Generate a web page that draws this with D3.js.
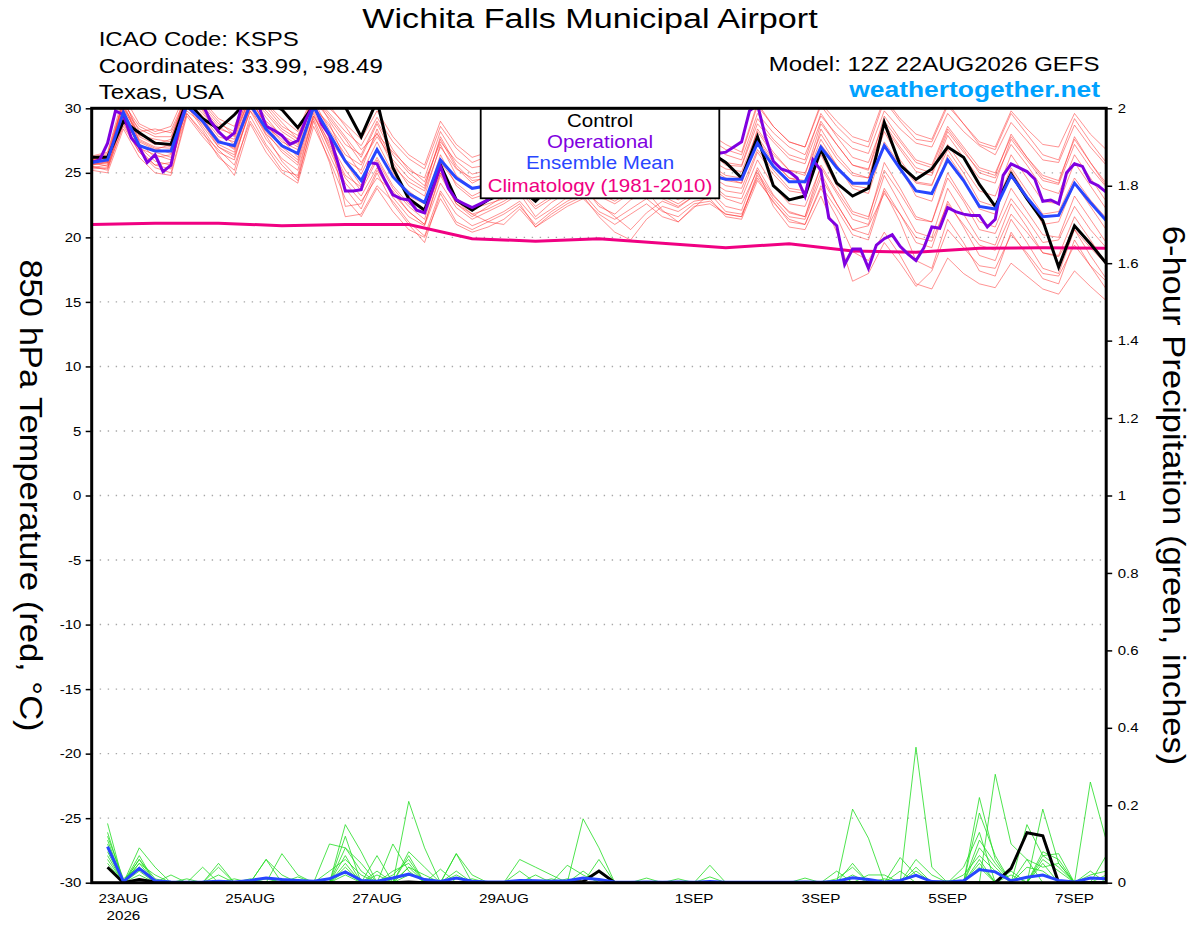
<!DOCTYPE html>
<html>
<head>
<meta charset="utf-8">
<script src="https://cdnjs.cloudflare.com/ajax/libs/d3/7.8.5/d3.min.js"></script>
<style>
  body { margin: 0; background: #fff; }
  svg { display: block; }
  text { font-family: "Liberation Sans", Arial, Helvetica, sans-serif; }
</style>
</head>
<body>
<svg></svg>
<script>
// 850 hPa temperature, 6-hourly from 12Z 22AUG2026 (65 steps)
var control = [26.2,26.2,29.0,28.1,27.3,27.2,30.6,29.2,28.4,29.5,
  30.8,30.6,29.9,28.5,30.2,30.4,30.1,27.8,30.6,25.4,
  23.0,22.1,25.6,22.9,22.1,22.9,23.4,23.8,22.8,24.0,
  24.8,25.5,25.0,24.5,25.2,25.8,26.0,25.4,26.0,26.6,
  25.8,24.6,27.8,24.0,22.9,23.2,26.8,24.2,23.2,23.8,
  28.9,25.6,24.5,25.3,27.0,26.2,24.1,22.4,24.9,23.0,
  21.3,17.7,20.9,19.5,18.0];
var ensMean = [25.8,26.0,29.7,27.1,26.7,26.7,30.2,29.0,27.4,27.1,
  30.3,28.4,27.1,26.5,30.1,28.0,25.9,24.4,26.8,24.7,
  23.4,22.7,26.0,24.6,23.8,24.0,24.3,24.5,24.0,24.6,
  24.8,25.2,24.9,24.6,25.0,25.3,25.0,24.8,25.2,24.8,
  24.5,24.5,27.3,25.5,24.3,24.3,27.0,25.4,24.2,24.2,
  27.1,25.3,23.6,23.4,26.0,24.4,22.4,22.2,24.8,23.1,
  21.6,21.7,24.2,22.7,21.3];
// operational run, 3-hourly (129 steps)
var operational = [25.8,26.0,27.3,29.8,29.5,27.7,27.0,25.8,26.4,25.1,
  25.6,28.5,30.4,30.3,30.3,29.0,28.2,27.6,28.1,30.3,
  30.5,30.3,28.6,28.3,27.9,27.2,27.5,29.1,30.3,28.8,
  27.9,25.9,23.6,23.6,23.7,25.8,25.7,24.4,23.3,23.0,
  22.9,22.1,21.9,23.7,25.5,23.8,22.9,22.6,22.3,22.6,
  22.9,23.6,24.4,24.9,24.6,24.2,24.8,25.3,24.9,24.4,
  24.7,25.2,25.6,25.1,24.8,25.3,25.8,25.4,25.0,25.5,
  26.0,25.7,25.3,25.6,26.1,25.9,25.6,25.9,26.3,26.5,
  26.6,27.0,27.4,29.8,30.3,27.8,25.9,25.3,25.1,24.6,
  23.2,26.0,25.2,21.5,20.9,17.9,19.1,19.1,17.6,19.4,
  19.9,20.2,19.3,18.7,18.2,19.2,20.8,20.7,22.3,22.0,
  21.8,21.7,21.7,20.8,21.4,24.8,25.7,25.4,25.1,24.5,
  22.8,22.9,22.6,25.0,25.7,25.5,24.3,24.0,23.5];
// climatology, daily at 12Z
var climatology = [21.0,21.1,21.1,20.9,21.0,21.0,19.9,19.7,19.9,19.55,19.2,19.5,18.95,18.85,19.15,19.2,19.15];

// ensemble members, temperature
var m01 = [26.1,26.4,30.4,28.6,28.0,28.3, 31.0,30.2,28.8,28.2,31.2,30.1,28.6,27.9,31.0,29.6, 28.2,27.1,29.3,27.4,26.1,25.3,28.6,26.9,25.8,26.3, 26.6,27.2,25.9,26.4,27.0,27.5,26.2,26.0,26.8,27.3,26.1,25.8,26.6, 27.2,26.4,26.0,29.6,28.1,27.0,26.4,29.4,28.0,26.9,26.5,29.8,28.4,27.3,27.0,29.6,28.2,27.1,26.4,28.9,27.5,26.0,25.8,28.7,27.0,25.6];
var m02 = [25.4,25.6,28.9,26.8,25.6,25.3, 30.4,28.6,27.0,26.2,29.8,27.6,26.1,25.2,29.4,27.0, 24.6,23.2,25.4,23.1,21.6,20.9,24.2,22.3,21.4,22.0, 22.6,23.4,21.6,22.7,23.5,24.0,22.4,21.8,22.9,23.6,22.1,21.2,22.3, 23.4,22.0,21.8,24.6,22.7,21.4,21.0,23.8,21.6,18.9,18.2,20.4,18.6,16.4,16.0,18.4,17.2,16.4,16.1,18.0,17.0,16.0,15.6,17.4,16.2,15.1];
var m03 = [25.9,25.8,30.8,27.8,27.2,27.6, 31.4,29.8,28.0,27.6,30.9,29.3,27.8,27.0,30.6,28.3, 26.4,25.6,28.1,25.5,24.3,23.6,27.0,25.3,24.6,24.9, 25.3,25.8,24.6,25.4,26.0,26.2,25.0,24.7,25.6,26.1,25.2,24.9,25.8, 26.0,25.3,25.1,28.2,26.4,25.2,25.0,28.0,26.1,24.8,24.6,28.2,26.0,24.3,24.1,26.8,25.0,22.8,22.4,25.4,23.6,21.8,22.0,24.6,22.9,21.5];
var m04 = [25.5,25.3,29.4,27.0,25.9,25.6, 30.2,28.4,26.6,26.0,30.1,27.9,25.9,24.6,29.0,25.8, 21.6,21.8,24.0,22.8,21.2,20.1,23.6,21.8,20.9,21.4, 22.0,22.8,21.4,22.2,23.1,23.8,22.6,21.6,20.6,21.9,22.8,22.3,23.2, 23.6,22.4,22.1,25.4,23.3,21.9,21.6,25.0,22.6,20.6,20.9,23.4,21.8,20.0,19.7,22.6,21.0,19.4,19.0,21.8,20.4,18.8,18.5,20.6,19.2,17.9];
var m05 = [26.2,26.5,30.6,28.2,28.4,28.1, 30.8,30.4,29.0,27.9,31.4,30.3,28.9,27.6,30.8,30.2, 28.6,26.8,28.0,26.6,25.4,24.3,27.4,25.9,24.9,25.2, 25.8,26.5,25.2,25.9,26.4,27.0,25.6,25.3,26.2,26.9,25.8,25.4,26.3, 26.6,25.6,25.5,28.8,27.4,26.1,25.7,29.0,27.2,25.6,25.3,28.6,26.8,25.1,24.8,27.9,26.2,24.6,24.2,27.6,26.0,24.4,24.1,27.2,25.4,23.9];
var m06 = [25.6,25.9,29.0,27.3,26.2,26.4, 29.8,28.8,27.2,26.6,30.2,28.4,27.2,26.4,30.4,27.6, 25.8,24.0,26.8,24.6,23.6,22.6,25.8,24.2,23.2,23.8, 24.2,24.9,23.6,24.4,25.0,25.5,24.2,23.8,24.6,25.2,24.4,24.0,24.9, 24.4,23.6,23.4,26.6,24.9,23.6,23.4,26.4,24.0,22.0,21.6,25.2,23.4,21.4,21.2,24.6,22.8,20.6,20.3,23.0,21.4,19.6,19.8,22.4,20.6,19.2];
var m07 = [25.9,26.2,30.1,27.6,27.0,26.9, 30.6,29.4,27.8,27.4,30.6,28.8,27.4,26.8,30.2,28.6, 26.8,24.9,27.4,25.0,23.2,22.6,26.4,24.0,23.0,23.4, 23.9,24.6,23.2,24.0,24.8,25.2,24.0,23.4,24.2,24.8,23.6,22.9,23.8, 24.0,23.0,22.6,25.2,22.4,20.8,20.6,23.2,20.4,16.6,17.2,19.6,18.0,16.2,17.4,20.6,19.2,17.8,17.6,20.2,18.8,17.2,17.0,19.4,17.8,16.6];
var m08 = [25.7,25.7,29.6,26.9,26.4,26.0, 30.0,29.0,27.6,26.8,30.4,28.0,26.8,25.8,29.8,27.2, 24.8,23.9,26.2,24.0,22.6,21.8,25.0,23.0,22.2,22.6, 23.0,23.8,22.4,23.2,24.0,24.6,23.4,22.8,23.6,24.4,23.2,22.6,23.4, 24.8,24.0,23.8,26.8,25.2,23.8,23.6,27.2,25.6,23.8,23.4,27.2,25.4,23.2,22.8,26.4,24.6,22.2,21.8,25.2,23.2,21.0,21.2,24.2,22.4,20.6];
var m09 = [26.0,26.3,30.2,27.9,27.6,27.4, 31.2,29.9,28.4,28.0,30.8,29.6,28.2,27.4,31.2,29.0, 27.2,26.4,29.0,26.8,25.2,24.6,28.2,26.2,25.4,25.6, 26.2,26.8,25.6,26.1,26.8,27.2,26.0,25.6,26.4,27.0,26.6,26.0,27.0, 28.0,27.2,26.6,30.4,28.6,27.4,27.0,30.2,28.6,27.4,27.0,30.6,29.0,27.6,27.4,30.2,28.8,27.4,27.0,29.8,28.4,27.2,27.0,29.6,28.0,26.8];
var m10 = [25.3,25.4,28.6,26.6,25.4,25.0, 29.6,28.2,26.2,25.2,29.4,27.2,25.6,24.4,29.2,26.4, 23.8,22.2,25.0,22.6,21.0,19.6,23.4,21.2,20.6,21.2, 21.8,22.6,20.8,21.8,22.6,23.2,21.6,20.4,19.8,21.4,22.4,22.0,22.8, 23.0,21.6,21.4,24.4,22.8,21.2,21.0,24.0,22.2,20.2,19.8,23.6,21.2,18.2,17.6,21.4,19.6,17.4,17.0,20.4,18.6,16.8,16.4,19.8,17.8,16.0];
var m11 = [26.0,26.0,29.9,28.0,27.4,27.0, 30.9,29.6,28.2,27.2,30.0,29.0,27.9,27.2,30.6,29.2, 27.6,25.8,27.8,26.0,24.6,23.8,27.8,25.6,24.4,24.6, 25.0,25.6,24.2,24.9,25.6,26.0,24.8,24.4,25.2,25.8,25.0,24.6,25.4, 25.6,24.8,24.6,27.8,26.0,24.6,24.4,27.6,25.6,24.0,23.8,27.4,25.6,24.2,24.0,27.2,25.4,23.6,23.2,26.4,24.6,22.8,22.6,25.8,24.0,22.2];
var m12 = [25.5,25.2,28.8,26.6,25.6,25.8, 29.6,28.0,26.8,25.6,29.0,27.0,25.2,24.8,29.6,26.8, 24.2,22.8,24.6,23.6,22.0,21.0,24.8,22.6,21.6,22.4, 23.2,24.0,22.8,23.6,24.4,24.8,23.6,23.0,23.8,24.6,23.6,23.2,24.0, 24.2,23.2,23.0,26.0,24.0,22.6,22.4,25.4,23.4,21.4,21.0,24.8,22.6,20.4,20.0,23.8,21.8,19.8,19.4,22.6,20.8,18.8,18.6,21.6,19.8,18.0];
var m13 = [26.1,26.1,30.5,27.4,26.8,27.2, 30.4,29.2,27.4,27.0,30.8,28.6,27.6,26.2,30.0,28.8, 26.0,25.2,28.4,25.8,24.0,23.2,27.2,24.8,23.8,24.2, 24.6,25.2,24.0,24.6,25.4,25.8,24.6,24.2,25.0,25.6,24.8,24.2,25.0, 25.2,24.4,24.2,27.6,25.8,24.6,24.2,28.4,26.4,25.0,24.6,28.8,27.0,25.4,25.0,28.2,26.6,25.2,24.8,28.0,26.2,24.6,24.2,27.8,25.8,24.0];
var m14 = [25.8,25.5,29.2,27.2,26.6,26.2, 30.2,28.9,27.0,26.4,29.8,28.2,26.6,25.6,29.4,27.4, 25.2,23.6,26.0,23.8,22.4,21.4,25.4,22.8,21.8,21.2, 21.0,22.2,20.8,21.6,22.4,23.0,21.8,21.0,21.8,22.6,21.6,21.2,22.4, 22.6,21.8,21.6,25.0,23.2,22.0,21.6,25.6,23.6,21.8,21.4,25.8,23.8,21.6,21.2,25.0,23.0,21.2,20.8,23.8,22.0,20.2,20.0,23.2,21.4,19.6];
var m15 = [25.6,25.8,29.8,27.5,26.9,26.5, 30.5,29.3,27.5,26.9,30.6,28.9,27.0,26.0,30.1,27.9, 22.4,22.6,25.2,23.4,22.0,21.0,25.0,22.6,21.8,22.2, 22.8,23.6,22.2,23.0,23.8,24.4,23.2,22.6,23.4,24.2,23.0,22.4,23.2, 25.4,24.6,24.2,28.4,26.6,25.2,24.8,28.8,27.2,25.6,25.2,29.4,27.6,26.0,25.6,28.6,27.0,25.4,25.0,27.8,26.2,24.8,24.4,27.6,25.8,24.2];
var m16 = [26.0,25.9,30.0,28.4,27.8,27.8, 30.7,30.0,28.6,27.8,31.0,29.8,28.4,27.6,30.9,29.4, 27.8,26.2,28.8,26.4,25.0,24.0,27.6,25.4,24.2,24.8, 25.4,26.0,24.8,25.6,26.2,26.6,25.4,25.0,25.8,26.4,25.4,25.0,25.6, 26.8,25.8,25.6,29.2,27.6,26.4,26.0,29.6,27.8,26.2,25.8,29.0,27.4,25.8,25.4,28.4,26.8,25.0,24.6,27.2,25.6,23.8,23.4,26.4,24.6,22.8];
var m17 = [25.2,25.0,28.4,26.2,25.0,24.8, 29.4,27.8,26.4,24.8,28.8,26.6,25.0,24.2,28.6,26.0, 23.0,21.6,23.8,22.0,20.6,20.0,23.0,21.0,20.4,20.8, 21.4,22.4,21.0,22.0,22.8,23.4,22.0,21.4,22.2,23.0,22.0,21.6,22.6, 22.8,21.8,21.6,24.8,23.0,21.6,21.4,24.6,22.6,20.6,20.2,23.8,21.8,19.6,19.2,22.8,20.8,18.6,18.2,21.4,19.6,17.6,17.2,20.6,18.6,16.8];
var m18 = [26.3,26.6,31.0,28.8,28.2,28.6, 31.4,30.6,29.2,28.6,31.6,30.4,29.2,28.2,31.2,30.0, 28.8,27.6,29.8,27.8,26.4,25.6,29.0,27.2,26.2,26.6, 26.8,27.4,26.2,26.8,27.4,27.8,26.6,26.2,27.0,27.6,26.6,26.2,27.0, 27.6,26.8,26.4,30.2,28.6,27.4,27.0,30.4,29.0,27.8,27.4,30.8,29.2,28.0,27.6,30.4,28.8,27.2,26.8,29.6,28.0,26.4,26.0,29.2,27.4,25.8];

// 6-hour precipitation (inches), steps 1..64
var ctlPrecip = [0.04,0,0.008,0.002,0,0,0,0, 0,0,0,0,0,0,0,0, 0,0,0,0.002,0,0,0,0, 0,0,0,0,0,0.002,0.003,0.03,
  0,0,0,0,0,0,0,0, 0,0,0,0,0,0,0,0, 0,0,0,0,0,0,0,0, 0,0.037,0.129,0.121,0,0,0,0];
var meanPrecip = [0.093,0.003,0.037,0.005,0.002,0.001,0.002,0.004, 0.002,0.006,0.012,0.008,0.006,0.004,0.01,0.028,
  0.006,0.004,0.012,0.022,0.008,0.003,0.012,0.004, 0.002,0.002,0.006,0.005,0.004,0.005,0.012,0.008,
  0.002,0.001,0.002,0.001,0.002,0.001,0.003,0.001, 0.001,0.001,0.001,0.001,0.002,0.001,0.004,0.013,
  0.008,0.002,0.006,0.019,0.003,0.002,0.005,0.034, 0.028,0.005,0.014,0.02,0.006,0.002,0.012,0.01];
var p01 = [0.153,0,0.05,0,0,0,0,0.05, 0,0,0,0,0,0,0,0.15, 0.08,0,0,0.21,0.09,0,0,0, 0,0,0,0,0,0,0.165,0.09, 0,0,0,0,0,0,0,0, 0,0,0,0,0,0,0,0.19, 0.115,0,0,0,0,0,0,0.04, 0,0,0,0,0,0,0.26,0.11];
var p02 = [0.13,0,0.09,0.04,0,0,0,0, 0,0,0.06,0.02,0,0,0,0.12, 0,0,0.1,0.03,0,0,0.075,0.02, 0,0,0,0,0,0,0,0, 0,0,0,0,0,0,0,0, 0,0,0,0,0,0,0,0, 0,0,0,0.35,0.04,0,0,0.22, 0.06,0,0,0.19,0.05,0,0,0];
var p03 = [0.11,0,0.07,0,0.02,0,0.04,0, 0,0,0,0.075,0.02,0,0.1,0.09, 0.05,0,0,0,0,0,0,0, 0,0,0.06,0.04,0.02,0,0,0, 0,0,0,0,0,0,0.045,0, 0,0,0,0,0,0,0,0.05, 0,0,0.065,0.02,0,0,0,0, 0.28,0.1,0.06,0,0,0,0,0.07];
var p04 = [0.09,0,0.06,0,0,0,0,0.04, 0,0,0.06,0,0,0,0,0.05, 0,0.07,0,0.08,0.04,0,0.075,0, 0,0,0,0,0,0.045,0.02,0, 0,0,0,0,0,0,0,0, 0,0,0,0,0,0,0,0, 0,0,0,0,0,0,0,0.18, 0.07,0,0.15,0.07,0.075,0,0,0];
var p05 = [0.08,0,0.05,0.02,0,0,0,0, 0,0.01,0,0,0,0,0,0.03, 0,0,0.02,0.06,0,0.035,0,0, 0,0,0.03,0,0,0,0,0, 0,0,0,0,0.01,0,0,0, 0,0,0,0,0,0,0.03,0, 0,0,0.03,0,0,0,0.04,0.13, 0,0.03,0,0.05,0,0,0,0];
var p06 = [0.07,0,0.04,0,0,0,0,0, 0,0,0,0,0.015,0,0,0.02, 0,0.02,0,0.04,0.02,0,0,0, 0,0,0,0,0.01,0,0,0.06, 0,0,0,0,0,0,0,0, 0,0,0,0,0.012,0,0,0, 0,0,0,0.06,0.02,0,0,0.09, 0.04,0,0.06,0.04,0.05,0,0,0.02];
var p07 = [0.06,0,0.03,0,0,0,0,0, 0.01,0,0,0,0,0,0.03,0.06, 0.02,0,0,0.07,0,0,0.03,0, 0,0,0,0,0,0,0,0, 0,0,0.012,0,0,0,0,0, 0,0,0,0,0,0,0,0, 0.02,0.02,0,0,0,0,0.02,0.07, 0.03,0,0,0.06,0.03,0,0,0];
var p08 = [0.05,0,0.02,0,0,0,0,0, 0,0,0,0.01,0,0,0,0.04, 0,0,0.03,0.05,0,0,0,0.01, 0,0,0,0,0,0,0,0, 0,0,0,0,0,0,0.015,0, 0,0,0,0,0,0,0,0.02, 0,0,0,0.04,0,0,0,0.05, 0,0,0.04,0.03,0,0,0.02,0.03];
var p09 = [0.12,0.01,0.04,0,0,0.01,0,0, 0,0,0.01,0,0,0,0,0.09, 0.03,0,0,0.02,0.01,0,0,0, 0,0,0,0.02,0,0.01,0,0, 0,0,0,0,0,0,0,0, 0,0,0,0,0,0,0.01,0.04, 0,0.01,0,0,0,0,0,0.11, 0.05,0,0,0.07,0.04,0,0,0];
var p10 = [0.1,0,0.06,0.01,0,0,0,0.02, 0,0,0,0,0,0,0,0.07, 0,0.03,0,0.04,0,0,0.02,0, 0,0,0,0,0,0,0.03,0, 0,0,0,0,0,0,0,0, 0,0,0,0,0,0,0,0, 0,0,0,0.03,0,0.005,0,0.06, 0,0.02,0,0.08,0.06,0,0.03,0];

var tTicks = [-30,-25,-20,-15,-10,-5,0,5,10,15,20,25,30];
var pTicks = [0,0.2,0.4,0.6,0.8,1,1.2,1.4,1.6,1.8,2];
var dateTicks = ["2026-08-23","2026-08-25","2026-08-27","2026-08-29","2026-09-01","2026-09-03","2026-09-05","2026-09-07"];
var dateLabels = ["23AUG","25AUG","27AUG","29AUG","1SEP","3SEP","5SEP","7SEP"];

var tMembers = [m01,m02,m03,m04,m05,m06,m07,m08,m09,m10,m11,m12,m13,m14,m15,m16,m17,m18];
var pMembers = [p01,p02,p03,p04,p05,p06,p07,p08,p09,p10];

var W = 1200, H = 927;
var pLeft = 91.7, pRight = 1106.2, pTop = 108.3, pBottom = 882.7;
var hour = 3600 * 1000;
var start = Date.UTC(2026, 7, 22, 12);

var svg = d3.select("svg").attr("width", W).attr("height", H);
svg.append("rect").attr("width", W).attr("height", H).attr("fill", "#fff");

var x = d3.scaleUtc().domain([new Date(start), new Date(start + 384 * hour)]).range([pLeft, pRight]);
var yT = d3.scaleLinear().domain([-30, 30]).range([pBottom, pTop]);
var yP = d3.scaleLinear().domain([0, 2]).range([pBottom, pTop]);

var t6 = d3.range(65).map(function(i) { return new Date(start + i * 6 * hour); });
var t3 = d3.range(129).map(function(i) { return new Date(start + i * 3 * hour); });
var tClim = d3.range(17).map(function(i) { return new Date(start + i * 24 * hour); });

var lineT6 = d3.line().x(function(d, i) { return x(t6[i]); }).y(function(d) { return yT(d); });
var lineT3 = d3.line().x(function(d, i) { return x(t3[i]); }).y(function(d) { return yT(d); });
var lineClim = d3.line().x(function(d, i) { return x(tClim[i]); }).y(function(d) { return yT(d); });
var lineP = d3.line().x(function(d, i) { return x(t6[i + 1]); }).y(function(d) { return yP(d); });

function text(x0, y0, s, size, anchor, color, weight, sx, parent) {
  return (parent || svg).append("text")
    .attr("transform", "translate(" + x0 + "," + y0 + ") scale(" + sx + ",1)")
    .attr("text-anchor", anchor)
    .attr("font-size", size)
    .attr("font-weight", weight)
    .attr("fill", color)
    .text(s);
}

svg.append("clipPath").attr("id", "plot")
  .append("rect").attr("x", pLeft).attr("y", pTop)
  .attr("width", pRight - pLeft).attr("height", pBottom - pTop);

// dotted grid
svg.append("g").selectAll("line")
  .data(tTicks.filter(function(v) { return v > -30 && v < 30; }))
  .enter().append("line")
  .attr("x1", pLeft).attr("x2", pRight)
  .attr("y1", function(d) { return yT(d); })
  .attr("y2", function(d) { return yT(d); })
  .attr("stroke", "#a8a8a8").attr("stroke-width", 1.4)
  .attr("stroke-dasharray", "1.4,6.6");

var plot = svg.append("g").attr("clip-path", "url(#plot)");

plot.selectAll("path.mem")
  .data(tMembers)
  .enter().append("path")
  .attr("class", "mem")
  .attr("d", lineT6)
  .attr("fill", "none")
  .attr("stroke", "#ff3030").attr("stroke-opacity", 0.75)
  .attr("stroke-width", 0.7);

plot.selectAll("path.pmem")
  .data(pMembers)
  .enter().append("path")
  .attr("class", "pmem")
  .attr("d", lineP)
  .attr("fill", "none")
  .attr("stroke", "#22dd22")
  .attr("stroke-width", 0.8);

plot.append("path").attr("d", lineClim(climatology))
  .attr("fill", "none").attr("stroke", "#f00082").attr("stroke-width", 3);
plot.append("path").attr("d", lineT6(control))
  .attr("fill", "none").attr("stroke", "#000").attr("stroke-width", 3);
plot.append("path").attr("d", lineT3(operational))
  .attr("fill", "none").attr("stroke", "#8000e0").attr("stroke-width", 3);
plot.append("path").attr("d", lineT6(ensMean))
  .attr("fill", "none").attr("stroke", "#2846ff").attr("stroke-width", 3);
plot.append("path").attr("d", lineP(ctlPrecip))
  .attr("fill", "none").attr("stroke", "#000").attr("stroke-width", 3);
plot.append("path").attr("d", lineP(meanPrecip))
  .attr("fill", "none").attr("stroke", "#2846ff").attr("stroke-width", 3);

// legend
var legend = svg.append("g");
legend.append("rect")
  .attr("x", 480.7).attr("y", pTop).attr("width", 238.6).attr("height", 198.3 - pTop)
  .attr("fill", "#fff").attr("stroke", "#000").attr("stroke-width", 1.8);
var legendItems = [["Control", "#000"], ["Operational", "#8000e0"], ["Ensemble Mean", "#2846ff"], ["Climatology (1981-2010)", "#f00082"]];
var legendY = [126.7, 147.9, 169.4, 191.7];
legendItems.forEach(function(d, i) {
  text(600, legendY[i], d[0], 18, "middle", d[1], "normal", 1.14, legend);
});

// frame
svg.append("rect")
  .attr("x", pLeft).attr("y", pTop).attr("width", pRight - pLeft).attr("height", pBottom - pTop)
  .attr("fill", "none").attr("stroke", "#000").attr("stroke-width", 3);

// axes
var axL = svg.append("g").attr("transform", "translate(" + pLeft + ",0)")
  .call(d3.axisLeft(yT).tickValues(tTicks).tickSize(6).tickPadding(3).tickFormat(function(d) { return String(d); }));
var axR = svg.append("g").attr("transform", "translate(" + pRight + ",0)")
  .call(d3.axisRight(yP).tickValues(pTicks).tickSize(6).tickPadding(4).tickFormat(function(d) { return String(d); }));
[axL, axR].forEach(function(ax) {
  ax.select(".domain").remove();
  ax.selectAll(".tick line").attr("stroke", "#000").attr("stroke-width", 1.5);
  ax.selectAll(".tick text")
    .attr("font-size", 13).attr("fill", "#000")
    .attr("font-family", "\"Liberation Sans\", Arial, sans-serif")
    .attr("transform", "scale(1.15,1)");
});

var parseDay = d3.utcParse("%Y-%m-%d");
dateTicks.forEach(function(d, i) {
  text(x(parseDay(d)), 903.3, dateLabels[i], 13, "middle", "#000", "normal", 1.17);
});
text(x(parseDay(dateTicks[0])), 920.3, "2026", 13, "middle", "#000", "normal", 1.17);

// titles
text(590, 28.3, "Wichita Falls Municipal Airport", 28, "middle", "#000", "normal", 1.22);
text(98.7, 45.7, "ICAO Code: KSPS", 20, "start", "#000", "normal", 1.2);
text(98.7, 72.7, "Coordinates: 33.99, -98.49", 20, "start", "#000", "normal", 1.2);
text(98.7, 99.3, "Texas, USA", 20, "start", "#000", "normal", 1.2);
text(1099.5, 70.7, "Model: 12Z 22AUG2026 GEFS", 20, "end", "#000", "normal", 1.2);
text(1100, 97.3, "weathertogether.net", 22, "end", "#00a2ff", "bold", 1.2);

svg.append("text")
  .attr("transform", "translate(20," + ((pTop + pBottom) / 2) + ") rotate(90) scale(1.08,1)")
  .attr("text-anchor", "middle").attr("font-size", 32).attr("fill", "#000")
  .text("850 hPa Temperature (red, °C)");
svg.append("text")
  .attr("transform", "translate(1163," + ((pTop + pBottom) / 2) + ") rotate(90) scale(1.08,1)")
  .attr("text-anchor", "middle").attr("font-size", 32).attr("fill", "#000")
  .text("6-hour Precipitation (green, inches)");
</script>
</body>
</html>
